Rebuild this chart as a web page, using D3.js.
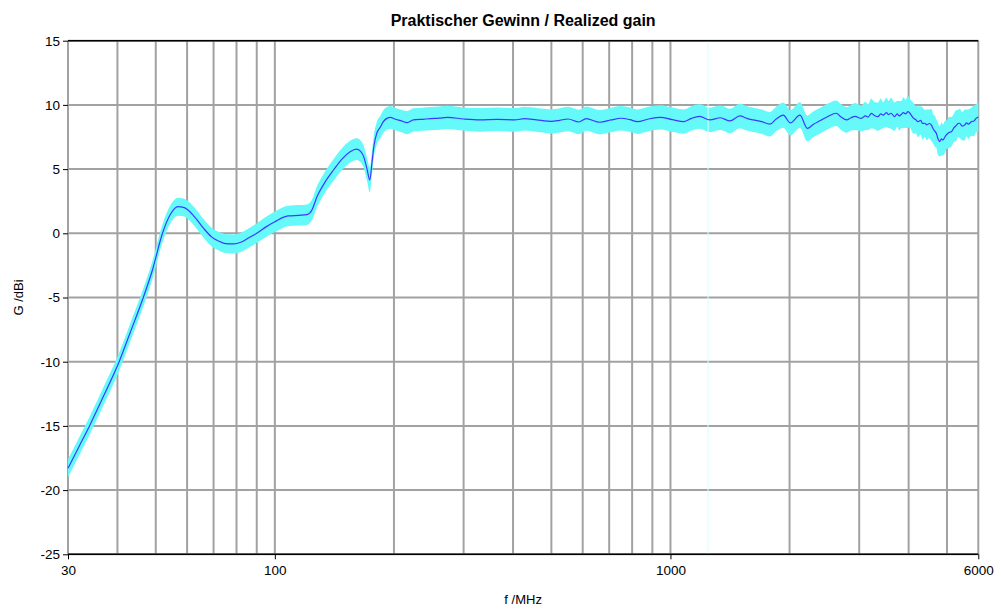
<!DOCTYPE html>
<html><head><meta charset="utf-8">
<script src="https://cdn.jsdelivr.net/npm/d3@7"></script>
<style>body{margin:0;background:#fff}svg{display:block;font-family:"Liberation Sans",Arial,sans-serif}</style>
</head><body><svg id="c" width="1001" height="612"></svg>
<script>
const titleText = "Praktischer Gewinn / Realized gain";
const xLabelText = "f /MHz";
const yLabelText = "G /dBi";
const xTickValues = [30, 100, 1000, 6000];
const xGridValues = [30,40,50,60,70,80,90,100,200,300,400,500,600,700,800,900,1000,2000,3000,4000,5000,6000];
const yTickValues = [-25,-20,-15,-10,-5,0,5,10,15];
const bandGapFreq = 1245;

const freq = [30,32,34,37,40.4,43,46.5,49,52,54.5,56.9,59,60.4,63,66,69.3,72,75,78.7,82,86,90,95,100,108,115,120.5,124,128,134,140.7,148,155,160.8,164.5,167.7,171,173.8,176,178,181,185,188,192,196,201,208,216,224,236,248,260,273,300,330,365,404,428,459,500,525,551,587,612,663,708,749,790,825,880,945,1010,1083,1130,1186,1257,1338,1413,1498,1560,1618,1700,1784,1850,1928,2009,2125,2218,2300,2400,2500,2625,2700,2788,2860,2930,3036,3110,3160,3219,3270,3345,3400,3450,3513,3560,3610,3687,3740,3790,3832,3880,3930,3984,4030,4061,4120,4170,4224,4290,4340,4389,4450,4510,4566,4620,4660,4699,4740,4791,4840,4887,4940,4983,5060,5130,5200,5280,5330,5385,5460,5544,5600,5660,5764,5850,5920,6000];
const gain = [-18.3,-16.6,-15.0,-12.6,-10.0,-7.8,-5.0,-2.9,0.0,1.5,2.07,2.0,1.8,1.2,0.4,-0.3,-0.6,-0.8,-0.83,-0.7,-0.35,0.0,0.5,0.9,1.35,1.4,1.45,1.8,2.9,4.0,4.93,5.8,6.35,6.55,6.4,5.97,5.0,4.15,5.5,6.8,7.79,8.3,8.7,8.95,9.03,8.9,8.77,8.62,8.83,8.88,8.93,8.97,9.03,8.9,8.83,8.88,8.83,8.93,8.83,8.72,8.8,8.9,8.67,8.93,8.65,8.83,8.96,8.85,8.69,8.9,9.03,8.85,8.7,8.95,9.1,8.83,9.0,8.75,9.14,8.95,8.83,8.7,8.5,8.9,9.2,8.6,9.2,8.17,8.5,8.8,9.1,9.35,9.05,8.83,9.0,9.1,8.95,9.15,9.05,9.34,9.2,9.08,9.3,9.2,9.4,9.25,9.35,9.08,9.3,9.15,9.25,9.4,9.3,9.47,9.35,9.2,8.95,8.85,8.7,8.8,8.55,8.57,8.45,8.55,8.43,8.1,7.95,7.79,7.4,7.14,7.35,7.27,7.5,7.66,7.85,7.91,8.2,8.4,8.55,8.57,8.35,8.43,8.6,8.5,8.7,8.75,8.95,9.05];
const tolerance = [0.7,0.7,0.7,0.7,0.7,0.7,0.7,0.7,0.7,0.7,0.7,0.7,0.7,0.72,0.72,0.72,0.72,0.74,0.74,0.75,0.75,0.76,0.78,0.8,0.8,0.8,0.8,0.8,0.82,0.82,0.84,0.85,0.85,0.85,0.85,0.85,0.9,0.95,0.9,0.88,0.88,0.88,0.88,0.88,0.88,0.88,0.88,0.9,0.9,0.9,0.9,0.9,0.9,0.9,0.92,0.92,0.92,0.92,0.93,0.94,0.94,0.95,0.95,0.95,0.95,0.95,0.95,0.95,0.95,0.95,0.95,0.95,0.95,0.95,0.95,0.95,0.95,0.95,0.95,0.95,0.95,0.95,0.95,0.95,0.98,0.98,1.0,1.0,1.0,1.0,1.0,1.0,1.0,1.0,1.0,1.05,1.0,1.1,1.0,1.15,1.05,1.1,1.2,1.0,1.15,1.05,1.2,1.1,1.0,1.15,1.05,1.2,1.1,1.25,1.1,1.15,1.2,1.05,1.2,1.1,1.25,1.05,1.2,1.1,1.25,1.15,1.2,1.1,1.25,1.15,1.3,1.2,1.25,1.1,1.2,1.15,1.1,1.2,1.05,1.15,1.1,1.2,1.05,1.15,1.1,1.2,1.1,1.15,1.1];

const svg = d3.select("#c");
const L = 68, R = 978.3, T = 40.7, B = 554.3;
const x = d3.scaleLog().domain([30, 6000]).range([L, R]);
const y = d3.scaleLinear().domain([-25, 15]).range([B, T]);
const fmt = d => String(d);

const data = freq.map((f, i) => ({f, g: gain[i], t: tolerance[i]}));

// grid
svg.append("g").selectAll("line").data(yTickValues).join("line")
  .attr("x1", L).attr("x2", R).attr("y1", d => y(d)).attr("y2", d => y(d))
  .attr("stroke", "#a2a2a2").attr("stroke-width", 2);
svg.append("g").selectAll("line").data(xGridValues).join("line")
  .attr("x1", d => x(d)).attr("x2", d => x(d)).attr("y1", T).attr("y2", B)
  .attr("stroke", "#a2a2a2").attr("stroke-width", 2);

// band
const area = d3.area().x(d => x(d.f)).y0(d => y(d.g - d.t)).y1(d => y(d.g + d.t)).curve(d3.curveMonotoneX);
svg.append("path").datum(data).attr("d", area).attr("fill", "#66f9f9");
svg.append("line").attr("x1", x(bandGapFreq)).attr("x2", x(bandGapFreq)).attr("y1", T).attr("y2", B)
  .attr("stroke", "#ddfcfc").attr("stroke-width", 1);

// line
const line = d3.line().x(d => x(d.f)).y(d => y(d.g)).curve(d3.curveMonotoneX);
svg.append("path").datum(data).attr("d", line).attr("fill", "none").attr("stroke", "#3a3aff").attr("stroke-width", 1.2);

// top/bottom border
[15, -25].forEach(v => svg.append("line").attr("x1", L).attr("x2", R).attr("y1", y(v)).attr("y2", y(v))
  .attr("stroke", "#000").attr("stroke-width", 1.5));

// y axis ticks/labels
const yAx = svg.append("g").attr("transform", `translate(${L},0)`)
  .call(d3.axisLeft(y).tickValues(yTickValues).tickSize(5).tickPadding(3).tickFormat(fmt));
yAx.select(".domain").remove();
yAx.selectAll("text").attr("font-size", 13.5).attr("fill", "#000").attr("font-family", "Liberation Sans, Arial, sans-serif");
yAx.selectAll("line").attr("stroke", "#000");

// x axis
const xAx = svg.append("g").attr("transform", `translate(0,${B})`)
  .call(d3.axisBottom(x).tickValues(xTickValues).tickSize(5).tickPadding(6).tickFormat(fmt));
xAx.select(".domain").remove();
xAx.selectAll("text").attr("font-size", 13.5).attr("fill", "#000").attr("font-family", "Liberation Sans, Arial, sans-serif");
xAx.selectAll("line").attr("stroke", "#000");

// titles
svg.append("text").attr("x", (L + R) / 2).attr("y", 26).attr("text-anchor", "middle")
  .attr("font-size", 16).attr("font-weight", "bold").text(titleText);
svg.append("text").attr("x", (L + R) / 2).attr("y", 604).attr("text-anchor", "middle")
  .attr("font-size", 13).text(xLabelText);
svg.append("text").attr("transform", `translate(23,${(T + B) / 2}) rotate(-90)`).attr("text-anchor", "middle")
  .attr("font-size", 13).text(yLabelText);
</script></body></html>
